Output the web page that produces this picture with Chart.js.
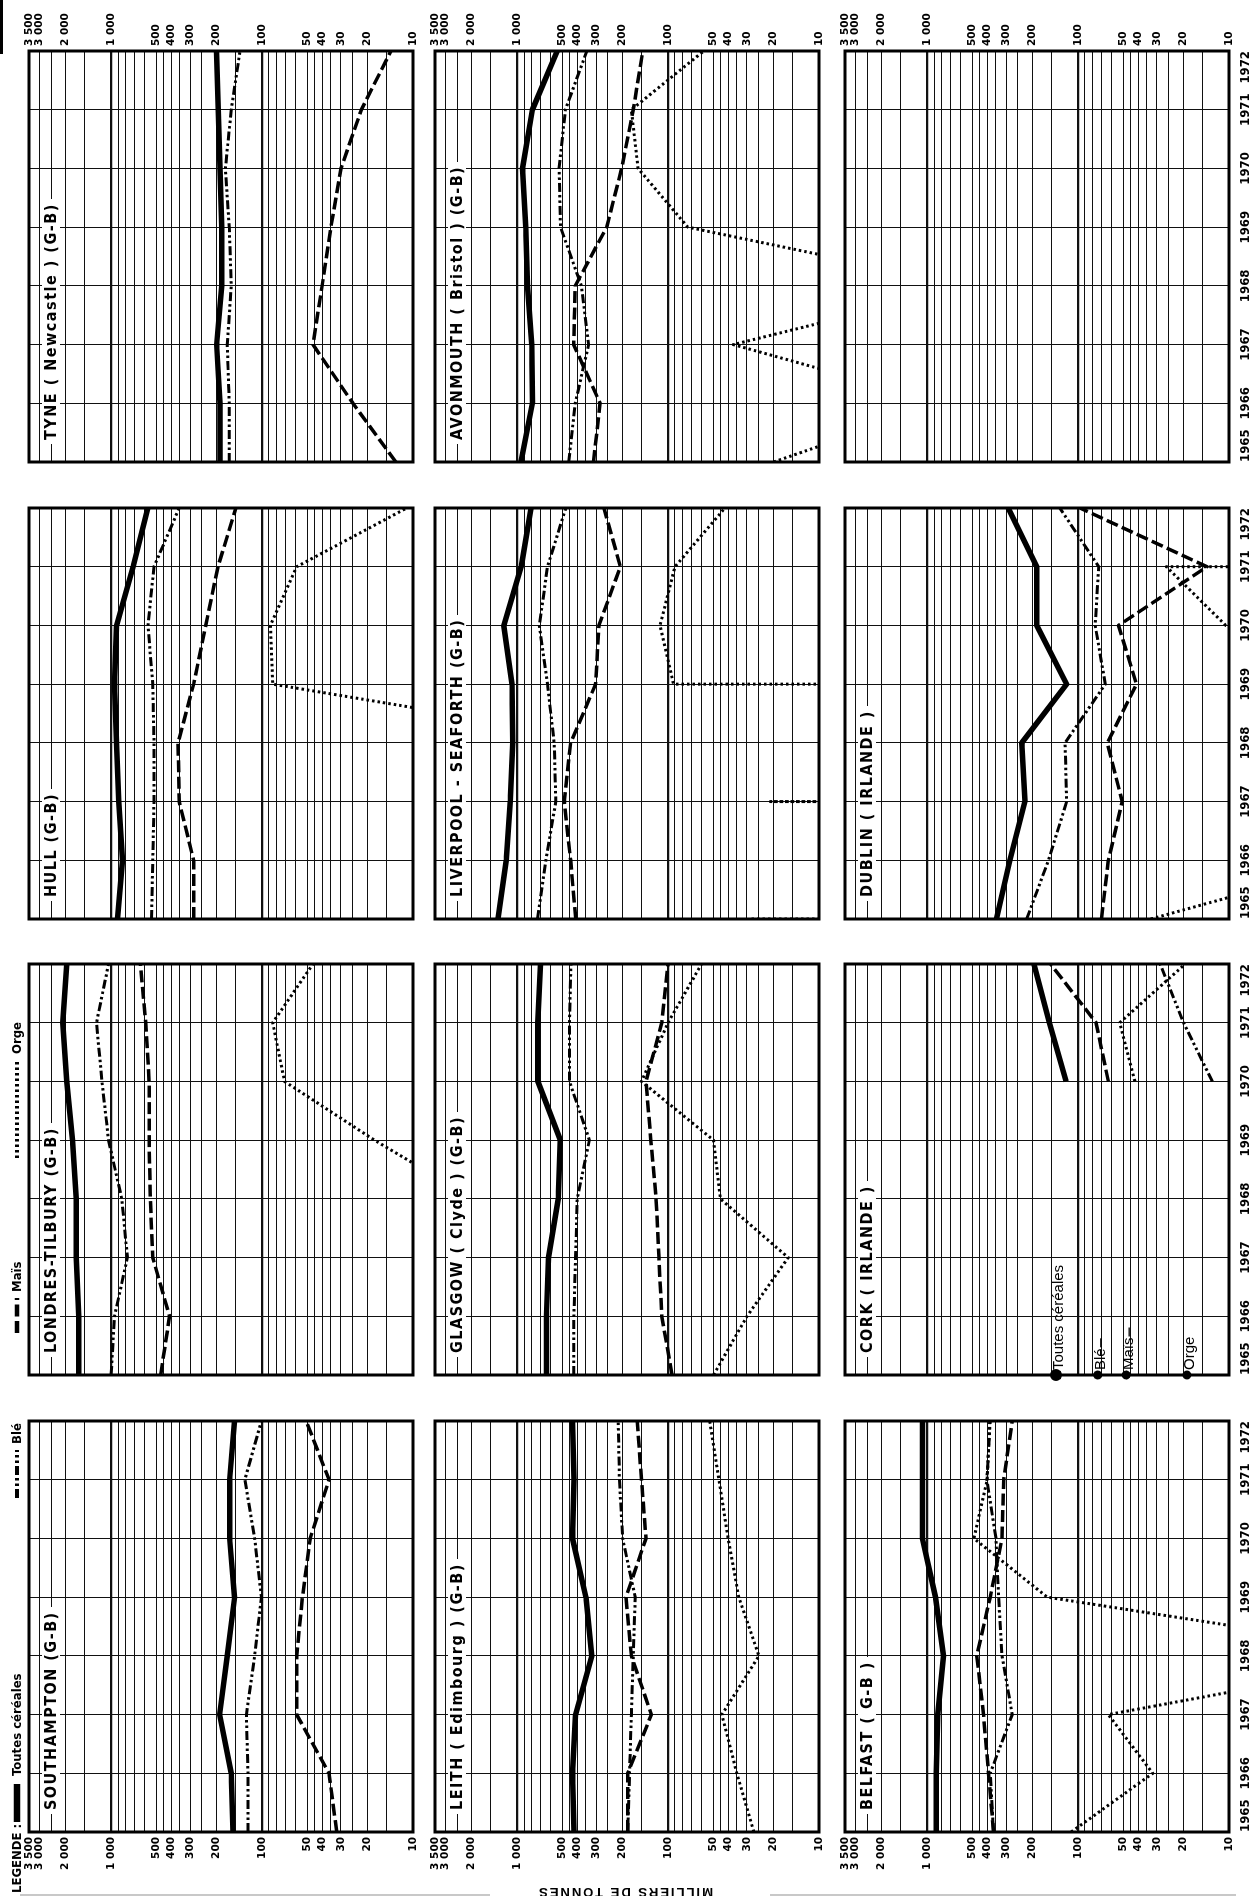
<!DOCTYPE html>
<html lang="fr">
<head>
<meta charset="utf-8">
<title>Importations de céréales par port, 1965-1972</title>
<script src="https://cdn.jsdelivr.net/npm/chart.js@4.4.1/dist/chart.umd.min.js"></script>
<style>
  html, body { margin: 0; padding: 0; background: #fff; }
  body { width: 1256px; height: 1896px; overflow: hidden; position: relative; }
  /* the sheet is laid out landscape and turned a quarter turn */
  #sheet { position: absolute; left: 0; top: 0; width: 1896px; height: 1256px;
           transform-origin: 0 0; transform: translate(0px, 1896px) rotate(-90deg);
           background: #fff; overflow: hidden; }
  #sheet canvas { position: absolute; z-index: 1; }
  .title { position: absolute; z-index: 3; background: #fff; color: #000; white-space: nowrap;
           font: bold 16px 'Liberation Sans Narrow', 'DejaVu Sans Condensed', 'Liberation Sans', sans-serif;
           letter-spacing: 1.5px; line-height: 18px; padding: 0 4px; }
  .legend { position: absolute; z-index: 3; color: #000; white-space: nowrap;
            font: bold 13px 'Liberation Sans Narrow', 'DejaVu Sans Condensed', 'Liberation Sans', sans-serif;
            line-height: 16px; }
  .axis-title { position: absolute; z-index: 3; color: #000; white-space: nowrap;
                font: bold 13px 'Liberation Sans', sans-serif; letter-spacing: 2px;
                transform-origin: 50% 50%; transform: translate(-50%, -50%) rotate(-90deg); }
  .rule { position: absolute; z-index: 2; }
  svg.sample { position: absolute; z-index: 3; overflow: visible; }
</style>
</head>
<body>
<div id="sheet"></div>
<script>
// ---- scales -------------------------------------------------------------
const YEARS = [1965, 1966, 1967, 1968, 1969, 1970, 1971, 1972];
const GRID_VALUES = [10, 15, 20, 25, 30, 35, 40, 45, 50, 60, 70, 80, 90, 100, 150, 200, 250, 300,
                     350, 400, 450, 500, 600, 700, 800, 900, 1000, 1500, 2000, 2500, 3000, 3500];
const LABELLED_VALUES = [10, 20, 30, 40, 50, 100, 200, 300, 400, 500, 1000, 2000, 3000, 3500];
const LABEL_TEXTS = ['10', '20', '30', '40', '50', '100', '200', '300', '400', '500',
                     '1 000', '2 000', '3 000', '3 500'];
const SERIES_NAMES = ['Toutes céréales', 'Blé', 'Maïs', 'Orge'];
const PORT_NAMES = ['SOUTHAMPTON (G-B)', 'LONDRES-TILBURY (G-B)', 'HULL (G-B)', 'TYNE ( Newcastle ) (G-B)',
                    'LEITH ( Edimbourg ) (G-B)', 'GLASGOW ( Clyde ) (G-B)', 'LIVERPOOL - SEAFORTH (G-B)', 'AVONMOUTH ( Bristol ) (G-B)',
                    'BELFAST ( G-B )', 'CORK ( IRLANDE )', 'DUBLIN ( IRLANDE )', ''];

// ---- imports, thousand tonnes, 1965 to 1972 --------------------------------
// null: no line; 0: nothing imported (the line falls straight to the axis)
const southamptonTotal = [156, 160, 191, 170, 152, 164, 164, 152];
const southamptonBle   = [124, 124, 127, 112, 101, 112, 130, 101];
const southamptonMais  = [32, 36, 59, 59, 54, 48, 36, 51];

const londresTotal = [1640, 1640, 1700, 1700, 1800, 1970, 2090, 1970];
const londresBle   = [1000, 950, 780, 850, 1040, 1150, 1250, 1040];
const londresMais  = [470, 410, 530, 550, 560, 560, 590, 640];
const londresOrge  = [null, null, null, 4, 18, 71, 85, 46];

const hullTotal = [908, 840, 890, 920, 950, 920, 715, 572];
const hullBle   = [540, 530, 520, 520, 530, 570, 520, 354];
const hullMais  = [284, 284, 354, 360, 284, 236, 196, 149];
const hullOrge  = [null, null, null, 0.4, 85, 88, 59, 11];

const tyneTotal = [190, 190, 200, 185, 185, 190, 195, 200];
const tyneBle   = [165, 165, 170, 160, 165, 175, 160, 140];
const tyneMais  = [13, 25, 46, 40, 35, 30, 22, 14];

const leithTotal = [420, 430, 410, 320, 350, 430, 420, 430];
const leithBle   = [185, 180, 175, 170, 165, 200, 210, 214];
const leithMais  = [185, 185, 129, 175, 190, 140, 150, 160];
const leithOrge  = [27, 35, 44, 25, 34, 40, 46, 53];

const glasgowTotal = [640, 640, 620, 534, 517, 729, 729, 700];
const glasgowBle   = [421, 421, 410, 400, 332, 450, 450, 440];
const glasgowMais  = [94, 110, 115, 120, 130, 140, 110, 100];
const glasgowOrge  = [50, 30, 16, 45, 50, 150, 100, 60];

const liverpoolTotal = [1340, 1180, 1110, 1070, 1080, 1225, 940, 810];
const liverpoolBle   = [732, 645, 554, 568, 629, 713, 629, 476];
const liverpoolMais  = [409, 442, 488, 442, 302, 287, 207, 266];
const liverpoolOrge  = [28, 0, 21, 0, 92, 113, 90, 42];

const avonmouthTotal = [945, 792, 800, 854, 876, 921, 792, 543];
const avonmouthBle   = [455, 412, 336, 375, 516, 527, 479, 345];
const avonmouthMais  = [312, 282, 422, 412, 255, 203, 170, 147];
const avonmouthOrge  = [20, 1.5, 37, 1, 74, 158, 175, 58];

const belfastTotal = [870, 870, 850, 780, 880, 1075, 1075, 1075];
const belfastBle   = [363, 382, 273, 319, 336, 350, 402, 382];
const belfastMais  = [363, 392, 423, 469, 382, 319, 311, 273];
const belfastOrge  = [111, 32, 63, 0.5, 160, 490, 400, 385];

const corkTotal = [null, null, null, null, null, 120, 155, 196];
const corkBle   = [null, null, null, null, null, 12.9, 20, 28.6];
const corkMais  = [null, null, null, null, null, 63, 76, 152];
const corkOrge  = [null, null, null, null, null, 42, 53, 19.5];
const corkKey   = [140, 74, 48, 19];   // key marks set on the 1965 edge

const dublinTotal = [347, 283, 225, 236, 119, 188, 188, 290];
const dublinBle   = [219, 157, 119, 122, 66, 77, 73, 132];
const dublinMais  = [70, 63, 51, 64, 41, 54, 14, 97];
const dublinOrge  = [33, 1.3, null, null, 0, 10.5, 26, 0];

const PORT_SERIES = [
  [southamptonTotal, southamptonBle, southamptonMais, null],
  [londresTotal, londresBle, londresMais, londresOrge],
  [hullTotal, hullBle, hullMais, hullOrge],
  [tyneTotal, tyneBle, tyneMais, null],
  [leithTotal, leithBle, leithMais, leithOrge],
  [glasgowTotal, glasgowBle, glasgowMais, glasgowOrge],
  [liverpoolTotal, liverpoolBle, liverpoolMais, liverpoolOrge],
  [avonmouthTotal, avonmouthBle, avonmouthMais, avonmouthOrge],
  [belfastTotal, belfastBle, belfastMais, belfastOrge],
  [corkTotal, corkBle, corkMais, corkOrge],
  [dublinTotal, dublinBle, dublinMais, dublinOrge],
  [null, null, null, null]
];

// ---- look -------------------------------------------------------------------
const LINE_STYLES = [
  { width: 5.5, dash: [] },
  { width: 3,   dash: [9, 3, 2.5, 3, 2.5, 3] },
  { width: 3.5, dash: [12, 4.5] },
  { width: 3,   dash: [2.5, 3] }
];
const COL_X = [64, 521, 977, 1434];
const ROW_Y = [29, 435, 845];
const PANEL_W = 411, PANEL_H = 384, MARGIN = 50;
const FLOOR = 1;   // off-scale value used where a series falls to nothing
const NARROW = "'Liberation Sans Narrow', 'DejaVu Sans Condensed', 'Liberation Sans', sans-serif";

const sheet = document.getElementById('sheet');

function toPoints(values) {
  const pts = [];
  values.forEach((v, i) => {
    if (v === null) { pts.push({ x: YEARS[i], y: null }); return; }
    if (v === 0) {
      if (i > 0 && values[i - 1] > 0) pts.push({ x: YEARS[i - 1], y: FLOOR });
      if (i < values.length - 1 && values[i + 1] > 0) pts.push({ x: YEARS[i + 1], y: FLOOR });
      return;
    }
    pts.push({ x: YEARS[i], y: v });
  });
  return pts;
}

const framePlugin = {
  id: 'frame',
  afterDatasetsDraw(chart) {
    const { ctx, chartArea: a } = chart;
    ctx.save();
    ctx.strokeStyle = '#000';
    ctx.lineWidth = 3;
    ctx.strokeRect(a.left, a.top, a.right - a.left, a.bottom - a.top);
    ctx.restore();
  }
};

const keyPlugin = {
  id: 'corkKey',
  afterDatasetsDraw(chart) {
    const meta = chart.getDatasetMeta(chart.data.datasets.length - 1);
    const ctx = chart.ctx;
    ctx.save();
    ctx.fillStyle = '#000';
    ctx.strokeStyle = '#000';
    ctx.lineWidth = 1.3;
    ctx.font = "15px 'Liberation Sans', sans-serif";
    ctx.textBaseline = 'middle';
    meta.data.forEach((pt, i) => {
      const text = SERIES_NAMES[i];
      ctx.fillText(text, pt.x + 5, pt.y + 3);
      if (i === 1 || i === 2) {
        const w = ctx.measureText(text).width;
        ctx.beginPath();
        ctx.moveTo(pt.x + 6 + w, pt.y + 3);
        ctx.lineTo(pt.x + 15 + w, pt.y + 3);
        ctx.stroke();
      }
    });
    ctx.restore();
  }
};

function makePanel(idx) {
  const col = idx % 4, row = Math.floor(idx / 4);
  const left = COL_X[col], top = ROW_Y[row];
  const canvas = document.createElement('canvas');
  const cw = PANEL_W + 2 * MARGIN, ch = PANEL_H + 2 * MARGIN;
  canvas.width = cw; canvas.height = ch;
  canvas.style.width = cw + 'px'; canvas.style.height = ch + 'px';
  canvas.style.left = (left - MARGIN) + 'px';
  canvas.style.top = (top - MARGIN) + 'px';
  sheet.appendChild(canvas);

  const datasets = [];
  PORT_SERIES[idx].forEach((values, s) => {
    if (!values) return;
    datasets.push({
      label: SERIES_NAMES[s],
      data: toPoints(values),
      borderColor: '#000',
      borderWidth: LINE_STYLES[s].width,
      borderDash: LINE_STYLES[s].dash,
      borderCapStyle: 'butt',
      borderJoinStyle: 'round',
      pointRadius: 0,
      tension: 0,
      spanGaps: false,
      clip: 0,
      order: 4 - s
    });
  });
  const plugins = [framePlugin];
  if (idx === 9) {
    datasets.push({
      type: 'scatter',
      label: 'repères',
      data: corkKey.map(v => ({ x: YEARS[0], y: v })),
      pointRadius: [6, 4.5, 4.5, 4.5],
      pointBackgroundColor: '#000',
      pointBorderWidth: 0,
      showLine: false,
      clip: false
    });
    plugins.push(keyPlugin);
  }

  const rightAxis = col === 3;
  const showValues = col === 0 || col === 3;
  const showYears = row === 2;

  new Chart(canvas, {
    type: 'line',
    data: { datasets },
    options: {
      responsive: false,
      animation: false,
      devicePixelRatio: 1,
      events: [],
      // the value scale and the year scale each take exactly MARGIN pixels
      layout: { padding: { top: MARGIN, bottom: 0, left: rightAxis ? MARGIN : 0, right: rightAxis ? 0 : MARGIN } },
      plugins: { legend: { display: false }, tooltip: { enabled: false } },
      scales: {
        x: {
          type: 'linear', min: YEARS[0], max: YEARS[YEARS.length - 1], position: 'bottom',
          afterFit: s => { s.height = MARGIN; },
          afterBuildTicks: s => { s.ticks = YEARS.map(v => ({ value: v })); },
          border: { display: false },
          grid: { color: '#111', lineWidth: 1, drawTicks: false },
          ticks: {
            display: showYears, autoSkip: false, maxRotation: 0, minRotation: 0, align: 'inner', padding: 9,
            color: '#000', font: { family: NARROW, size: 13, weight: 'bold' },
            callback: v => String(v)
          }
        },
        y: {
          type: 'logarithmic', min: 10, max: 3500, position: rightAxis ? 'right' : 'left',
          afterFit: s => { s.width = MARGIN; },
          afterBuildTicks: s => { s.ticks = GRID_VALUES.map(v => ({ value: v })); },
          border: { display: false },
          grid: {
            color: '#111', drawTicks: false,
            lineWidth: c => (c.tick && (c.tick.value === 1000 || c.tick.value === 100)) ? 2.2 : 1
          },
          ticks: {
            display: showValues, autoSkip: false, padding: 5,
            color: '#000', font: { family: "'DejaVu Sans', 'Liberation Sans', sans-serif", size: 10.5, weight: 'bold' },
            callback: v => { const k = LABELLED_VALUES.indexOf(v); return k < 0 ? '' : LABEL_TEXTS[k]; }
          }
        }
      }
    },
    plugins
  });

  if (PORT_NAMES[idx]) {
    const t = document.createElement('div');
    t.className = 'title';
    t.textContent = PORT_NAMES[idx];
    t.style.left = (left + 18) + 'px';
    t.style.top = (top + 13) + 'px';
    sheet.appendChild(t);
  }
}

for (let i = 0; i < 12; i++) makePanel(i);

// ---- key along the top edge -------------------------------------------------
function addText(cls, text, x, y) {
  const d = document.createElement('div');
  d.className = cls;
  d.textContent = text;
  d.style.left = x + 'px';
  d.style.top = y + 'px';
  sheet.appendChild(d);
  return d;
}
function addSample(style, x0, x1, y) {
  const ns = 'http://www.w3.org/2000/svg';
  const svg = document.createElementNS(ns, 'svg');
  svg.setAttribute('class', 'sample');
  svg.setAttribute('width', x1 - x0);
  svg.setAttribute('height', 10);
  svg.style.left = x0 + 'px';
  svg.style.top = (y - 5) + 'px';
  const line = document.createElementNS(ns, 'line');
  line.setAttribute('x1', 0); line.setAttribute('x2', x1 - x0);
  line.setAttribute('y1', 5); line.setAttribute('y2', 5);
  line.setAttribute('stroke', '#000');
  line.setAttribute('stroke-width', style.width + 1);
  if (style.dash.length) line.setAttribute('stroke-dasharray', style.dash.join(' '));
  svg.appendChild(line);
  sheet.appendChild(svg);
}
function addRule(x, y, w, h, colour) {
  const d = document.createElement('div');
  d.className = 'rule';
  Object.assign(d.style, { left: x + 'px', top: y + 'px', width: w + 'px', height: h + 'px', background: colour });
  sheet.appendChild(d);
}

const KEY_Y = 17;
addText('legend', 'LEGENDE :', 3, KEY_Y - 8);
const KEY_SPOTS = [[74, 112, 120], [398, 446, 452], [563, 598, 604], [738, 836, 842]];
KEY_SPOTS.forEach((p, s) => {
  addSample(LINE_STYLES[s], p[0], p[1], KEY_Y);
  addText('legend', SERIES_NAMES[s], p[2], KEY_Y - 8);
});

// value axis caption along the left edge, between two faint rules
addText('axis-title', 'MILLIERS DE TONNES', 3, 625);
addRule(0, 20, 2, 470, '#c8c8c8');
addRule(0, 770, 2, 466, '#c8c8c8');
// short mark at the top right corner of the sheet
addRule(1842, 0, 54, 3, '#000');
</script>
</body>
</html>
